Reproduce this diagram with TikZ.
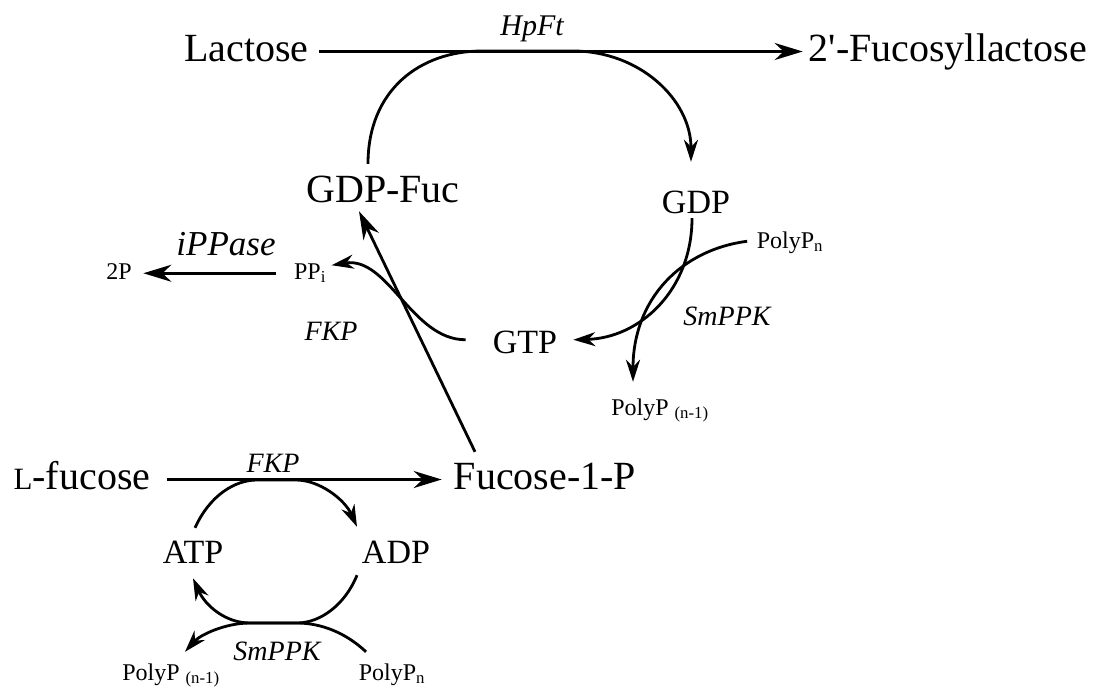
\documentclass[tikz,border=0pt]{standalone}
\usepackage{fontspec}
\setmainfont{Liberation Serif}
\usetikzlibrary{arrows.meta}

\tikzset{
  big/.style={anchor=base, inner sep=0pt, font=\fontsize{40}{48}\selectfont, text height=28pt, text depth=9pt},
  mid/.style={anchor=base, inner sep=0pt, font=\fontsize{34}{40}\selectfont, text height=24pt, text depth=7.5pt},
  small/.style={anchor=base, inner sep=0pt, font=\fontsize{24}{28}\selectfont, text height=17pt, text depth=5.5pt},
  enzyme/.style={anchor=base, inner sep=0pt, font=\itshape\fontsize{28}{32}\selectfont},
  rxn/.style={line width=2.8pt, -{Stealth[length=28pt, width=17pt, inset=9pt]}},
  cyc/.style={line width=2.8pt, -{Stealth[length=22pt, width=14pt, inset=7pt]}}
}

\begin{document}
\begin{tikzpicture}[x=1pt, y=-1pt]%
\useasboundingbox (0,0) rectangle (1095,689);%
% compounds
\node[big] (lac) at (246.5, 61) {Lactose};%
\node[big] (fl) at (948, 61) {2\textquotesingle-Fucosyllactose};%
\node[big] (gdpfuc) at (383, 202) {GDP-Fuc};%
\node[mid] (gdp) at (696, 213) {GDP};%
\node[mid] (gtp) at (525, 353) {GTP};%
\node[small] (polyn) at (790, 248) {PolyP\textsubscript{n}};%
\node[small] (polym) at (660, 415) {PolyP \textsubscript{(n-1)}};%
\node[small] (ppi) at (310, 279) {PP\textsubscript{i}};%
\node[small] (twop) at (119, 279) {2P};%
\node[big] (lfuc) at (82, 489) {{\fontsize{31}{31}\selectfont L}-fucose};%
\node[big] (fuc1p) at (545, 489) {Fucose-1-P};%
\node[mid] (atp) at (193, 563) {ATP};%
\node[mid] (adp) at (396, 563) {ADP};%
\node[small] (bpolym) at (171, 680) {PolyP \textsubscript{(n-1)}};%
\node[small] (bpolyn) at (392, 680) {PolyP\textsubscript{n}};%
% enzymes
\node[enzyme, font=\itshape\fontsize{30}{34}\selectfont] (hpft) at (532, 35) {HpFt};%
\node[enzyme, font=\itshape\fontsize{35}{40}\selectfont] (ippase) at (226, 255) {iPPase};%
\node[enzyme] (fkp1) at (331, 340) {FKP};%
\node[enzyme] (smppk1) at (727, 325) {SmPPK};%
\node[enzyme] (fkp2) at (273, 472) {FKP};%
\node[enzyme] (smppk2) at (277, 660) {SmPPK};%
% tangent points
\coordinate (ta) at (482, 51);%
\coordinate (tb) at (573, 51);%
\coordinate (tc) at (257, 480);%
\coordinate (td) at (296, 480);%
\coordinate (te) at (297, 623);%
\coordinate (tf) at (250, 623);%
% reactions
\draw[rxn, shorten <=10pt, shorten >=6pt] (lac) -- (fl);%
\draw[cyc] ([xshift=-15pt, yshift=10pt]gdpfuc.north) .. controls (368, 90) and (420, 51) .. (ta) -- (tb) .. controls (640, 51) and (691, 100) .. ([xshift=-5pt, yshift=27pt]gdp.north);%
\draw[cyc] ([xshift=-4pt, yshift=2.5pt]gdp.south) .. controls (692, 290) and (640, 338) .. ([xshift=16pt, yshift=5pt]gtp.east);%
\draw[cyc] ([xshift=-9.5pt, yshift=1pt]polyn.west) .. controls (680, 250) and (633, 300) .. ([xshift=-27pt, yshift=16pt]polym.north);%
\draw[cyc] ([xshift=-27pt, yshift=5pt]gtp.west) .. controls (412, 340) and (388, 256) .. ([xshift=5.5pt, yshift=8pt]ppi.east);%
\draw[rxn, shorten <=17.5pt, shorten >=11.5pt] (ppi) -- (twop);%
\draw[rxn] ([xshift=-70pt, yshift=9pt]fuc1p.north) -- ([xshift=-24pt]gdpfuc.south);%
\draw[rxn, shorten <=16pt, shorten >=12pt] (lfuc) -- (fuc1p);%
\draw[cyc] ([xshift=2pt, yshift=11pt]atp.north) .. controls (210, 495) and (235, 480) .. (tc) -- (td) .. controls (320, 480) and (345, 500) .. ([xshift=-39pt, yshift=12pt]adp.north);%
\draw[cyc] ([xshift=-39pt, yshift=-4.5pt]adp.south) .. controls (345, 605) and (320, 623) .. (te) -- (tf) .. controls (225, 623) and (205, 605) .. ([yshift=-7.5pt]atp.south);%
\draw[cyc] ([xshift=-26pt, yshift=11pt]bpolyn.north) .. controls (345, 632) and (320, 623) .. (te) -- (tf) .. controls (225, 623) and (200, 635) .. ([xshift=14pt, yshift=11pt]bpolym.north);%
\end{tikzpicture}
\end{document}
